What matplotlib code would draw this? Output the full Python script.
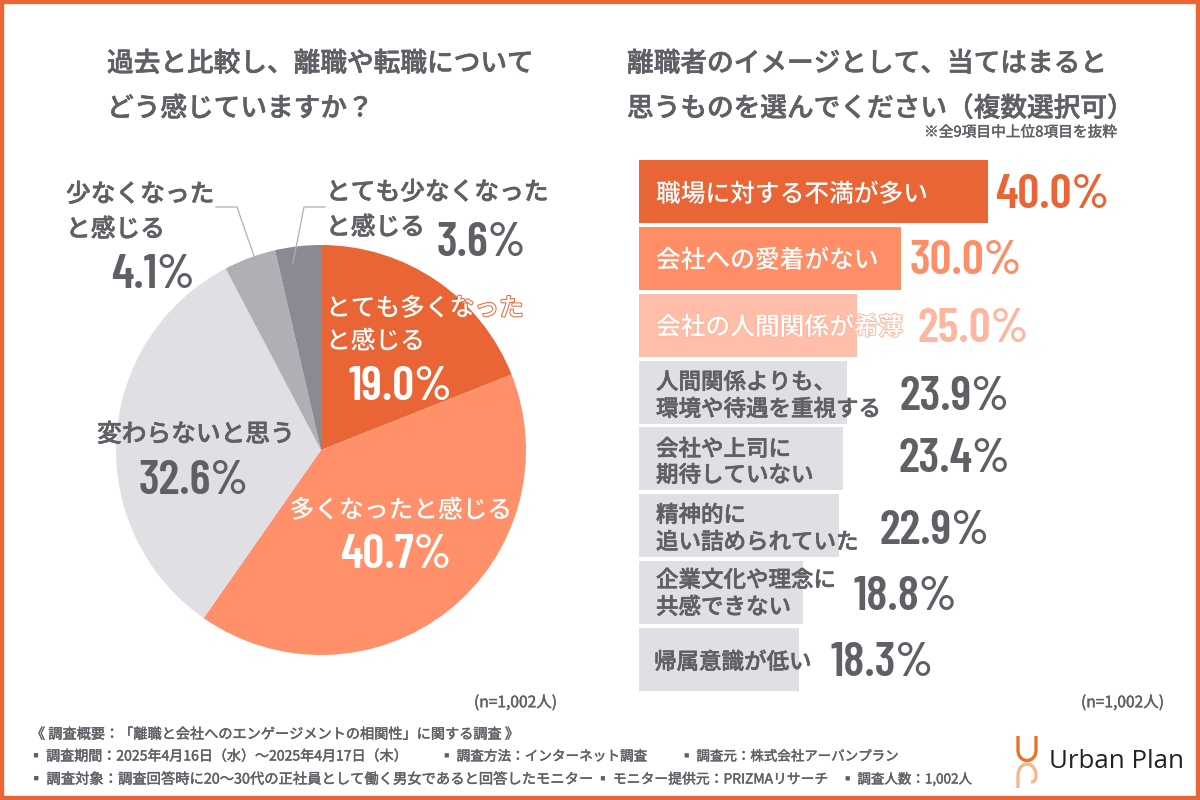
import matplotlib
matplotlib.use("Agg")
from matplotlib import pyplot as plt
from matplotlib import patheffects as pe
from matplotlib.patches import Rectangle, PathPatch
from matplotlib.path import Path

JP = ['Noto Sans CJK JP', 'DejaVu Sans']
NUM = ['Barlow Condensed', 'Roboto', 'DejaVu Sans']
plt.rcParams['font.family'] = JP

# pie data
pie_labels = ["とても多くなった\nと感じる", "多くなったと感じる", "変わらないと思う", "少なくなった\nと感じる", "とても少なくなった\nと感じる"]
pie_values = [19.0, 40.7, 32.6, 4.1, 3.6]
pie_colors = ['#E96535', '#FF9069', '#E0DFE4', '#B0AFB5', '#8B8A92']

# bar data
bar_labels = ["職場に対する不満が多い", "会社への愛着がない", "会社の人間関係が希薄", "人間関係よりも、\n環境や待遇を重視する",
              "会社や上司に\n期待していない", "精神的に\n追い詰められていた", "企業文化や理念に\n共感できない", "帰属意識が低い"]
bar_values = [40.0, 30.0, 25.0, 23.9, 23.4, 22.9, 18.8, 18.3]
bar_colors = ['#E96535', '#FF8D66', '#FFBEAA', '#E0DFE4', '#E0DFE4', '#E0DFE4', '#E0DFE4', '#E0DFE4']
value_colors = ['#E96535', '#FF8D66', '#FFB59E', '#5F5F66', '#5F5F66', '#5F5F66', '#5F5F66', '#5F5F66']

GRAY = '#5F5F66'
fig = plt.figure(figsize=(12, 8), dpi=100, facecolor='white')

# overlay in pixel coords for text
bg = fig.add_axes([0, 0, 1, 1], zorder=5)
bg.set_xlim(0, 1200)
bg.set_ylim(800, 0)
bg.axis('off')
bg.patch.set_alpha(0)

# pie
cx, cy, r = 321, 450, 205
ax1 = fig.add_axes([(cx - r) / 1200, (800 - cy - r) / 800, 2 * r / 1200, 2 * r / 800])
ax1.pie(pie_values, colors=pie_colors, startangle=90, counterclock=False, radius=1)
ax1.set_xlim(-1, 1)
ax1.set_ylim(-1, 1)

# bars
ax2 = fig.add_axes([639 / 1200, (800 - 694.5) / 800, 560 / 1200, 536 / 800])
y_pos = list(range(len(bar_values)))
ax2.barh(y_pos, bar_values, height=0.945, color=bar_colors)
ax2.set_xlim(0, 560 / 8.72)
ax2.set_ylim(7.53, -0.5)
ax2.axis('off')


def label(x, y, s, size=17.8, color=GRAY, stroke=None, **kw):
    small = size < 15
    t = bg.text(x - (not small), y + 0.15 * size, s, fontsize=size, color=color, family=JP,
                fontweight='regular' if small else 'medium', va='center', **kw)
    if stroke:
        t.set_path_effects([pe.withStroke(linewidth=1.4, foreground=stroke)])
    else:
        t.set_path_effects([pe.withStroke(linewidth=0.3 if small else 0.4, foreground=color)])
    return t


def value(x, y, v, color=GRAY, size=35):
    return bg.text(x, y + 4, f"{v:.1f}%", fontsize=size, color=color, family=NUM, fontweight=600,
                   va='center', ha='center')


# titles
label(108, 61, "過去と比較し、離職や転職について", size=19.2)
label(108, 106, "どう感じていますか？", size=19.2)
label(628, 61, "離職者のイメージとして、当てはまると", size=19.2)
label(628, 106, "思うものを選んでください（複数選択可）", size=19.2)
label(924, 131, "※全9項目中上位8項目を抜粋", size=10.6)

# pie labels
label(327, 306, "とても多くなった", color='white', stroke='#E96535')
label(327, 339, "と感じる", color='white', stroke='#E96535')
value(400, 383, pie_values[0], color='white')
label(402, 508, pie_labels[1], color='white', stroke='#FF9069', ha='center')
value(396, 551, pie_values[1], color='white')
label(197, 432, pie_labels[2], ha='center')
value(194, 478, pie_values[2])
label(67, 192, "少なくなった")
label(67, 227, "と感じる")
value(153, 272, pie_values[3])
label(327, 190, "とても少なくなった")
label(327, 225, "と感じる")
value(481, 240, pie_values[4])

# leader lines
bg.plot([216, 237, 254], [207, 207, 256], color='#B0AFB5', lw=0.9)
bg.plot([325, 304, 293], [207, 207, 263], color='#B0AFB5', lw=0.9)

# bar labels and values
bar_y = [192, 258, 325, 393, 455, 527, 593, 660]
line_y = [None, None, None, (380, 407), (447, 473), (513, 540), (578, 605), None]
value_x = [1052, 966, 973, 954, 954, 934, 905, 882]
for i in range(len(bar_values)):
    if i < 3:
        label(657, bar_y[i], bar_labels[i], color='white', stroke=value_colors[i])
    elif i == 7:
        label(655, bar_y[i], bar_labels[i], size=16.2)
    else:
        line1, line2 = bar_labels[i].split("\n")
        label(657, line_y[i][0], line1, size=16.2)
        label(657, line_y[i][1], line2, size=16.2)
    value(value_x[i], bar_y[i], bar_values[i], color=value_colors[i])

label(474, 701, "(n=1,002人)", size=11.2)
label(1081, 701, "(n=1,002人)", size=11.2)

# footer
label(31, 733, "《 調査概要：「離職と会社へのエンゲージメントの相関性」に関する調査 》", size=10.2)
label(29, 755, "▪ 調査期間：2025年4月16日（水）～2025年4月17日（木）", size=10.1)
label(440, 755, "▪ 調査方法：インターネット調査", size=9.8)
label(680, 755, "▪ 調査元：株式会社アーバンプラン", size=9.7)
label(29, 778, "▪ 調査対象：調査回答時に20～30代の正社員として働く男女であると回答したモニター", size=10.3)
label(596, 778, "▪ モニター提供元：PRIZMAリサーチ", size=9.95)
label(841, 778, "▪ 調査人数：1,002人", size=9.7)

# logo
top_u = Path([(1018, 736), (1018, 750), (1018, 764), (1036, 764), (1036, 750), (1036, 736)],
             [Path.MOVETO, Path.LINETO, Path.CURVE4, Path.CURVE4, Path.CURVE4, Path.LINETO])
bottom_u = Path([(1018, 788), (1018, 776), (1018, 760), (1036, 760), (1036, 776), (1036, 782), (1031, 782)],
                [Path.MOVETO, Path.LINETO, Path.CURVE4, Path.CURVE4, Path.CURVE4, Path.CURVE3, Path.CURVE3])
bg.add_patch(PathPatch(top_u, fill=False, edgecolor='#E8742C', lw=2.4))
bg.add_patch(PathPatch(bottom_u, fill=False, edgecolor='#F6B78F', lw=2.4))
bg.text(1049, 761, "Urban Plan", fontsize=18.6, color='#222222', family=['Open Sans', 'DejaVu Sans'], va='center')

# frame
bg.add_patch(Rectangle((0, 0), 1200, 800, fill=False, edgecolor='#E96535', lw=6))

fig.savefig("out.png", dpi=100)
